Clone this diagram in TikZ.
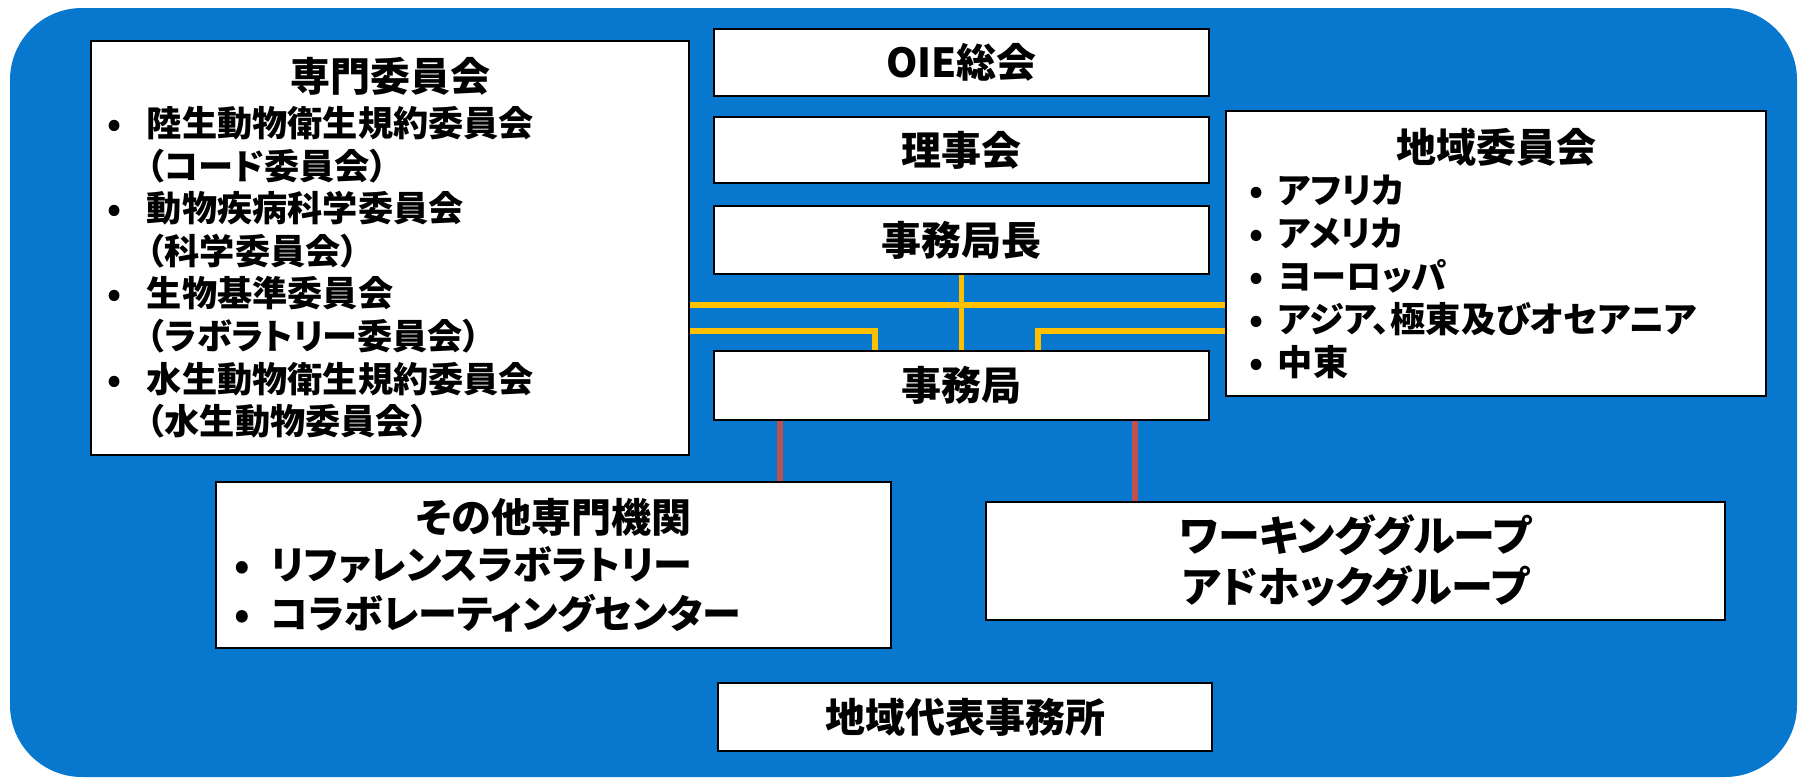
\documentclass[tikz,border=0pt]{standalone}
\usepackage{fontspec}
\setmainfont{Noto Sans CJK JP}[RawFeature=+palt]
\definecolor{bgblue}{HTML}{0878CE}
\definecolor{lineyellow}{HTML}{FFC000}
\definecolor{linered}{HTML}{C0504D}
\newcommand{\bl}[2]{\makebox[#1][l]{\hspace*{#2}•}}
\begin{document}
\begin{tikzpicture}[x=0.5pt,y=-0.5pt,
  box/.style={draw=black,line width=1.3pt,fill=white,inner sep=0pt,font=\bfseries\fontsize{20pt}{24pt}\selectfont,align=center},
  yl/.style={draw=lineyellow,line width=2.6pt},
  rl/.style={draw=linered,line width=3pt}]
\useasboundingbox (0,0) rectangle (1798,778);
\fill[bgblue,rounded corners=36pt] (10,8) rectangle (1797,777);
% top center boxes
\node[box,minimum width=247.5pt,minimum height=33.5pt] (oie) at (961.5,62.5) {OIE総会};
\node[box,minimum width=247.5pt,minimum height=33pt] (riji) at (961.5,150) {理事会};
\node[box,minimum width=247.5pt,minimum height=34pt] (cho) at (961.5,240) {事務局長};
\node[box,minimum width=247.5pt,minimum height=34.5pt] (jim) at (961.5,385.5) {事務局};
\node[box,minimum width=247pt,minimum height=34pt] (chiiki) at (965,717) {地域代表事務所};
% left box
\node[box,minimum width=299pt,minimum height=207pt,align=left] (senmon) at (390,248) {%
\begin{minipage}{275pt}
\centerline{\fontsize{20pt}{24pt}\selectfont 専門委員会}\vspace{1pt}
\fontsize{17.6pt}{21.3pt}\selectfont
\bl{16pt}{-4pt}陸生動物衛生規約委員会\\
\hspace*{16pt}（コード委員会）\\
\bl{16pt}{-4pt}動物疾病科学委員会\\
\hspace*{16pt}（科学委員会）\\
\bl{16pt}{-4pt}生物基準委員会\\
\hspace*{16pt}（ラボラトリー委員会）\\
\bl{16pt}{-4pt}水生動物衛生規約委員会\\
\hspace*{16pt}（水生動物委員会）
\end{minipage}};
% region box
\node[box,minimum width=270pt,minimum height=142.5pt,align=left] (region) at (1496,253.5) {%
\begin{minipage}{254pt}
\centerline{\fontsize{20pt}{24pt}\selectfont 地域委員会}\vspace{-1pt}
\fontsize{17.6pt}{21.5pt}\selectfont
\bl{18pt}{3.5pt}アフリカ\\
\bl{18pt}{3.5pt}アメリカ\\
\bl{18pt}{3.5pt}ヨーロッパ\\
\bl{18pt}{3.5pt}アジア、極東及びオセアニア\\
\bl{18pt}{3.5pt}中東
\end{minipage}};
% other box
\node[box,minimum width=337.5pt,minimum height=83pt,align=left] (other) at (553.5,565) {%
\begin{minipage}{315pt}
\centerline{\fontsize{20pt}{24pt}\selectfont その他専門機関}\vspace{-1pt}
\fontsize{19.5pt}{24.5pt}\selectfont
\bl{16pt}{-2pt}リファレンスラボラトリー\\
\bl{16pt}{-2pt}コラボレーティングセンター
\end{minipage}};
% working group
\node[box,minimum width=369.5pt,minimum height=59pt,font=\bfseries\fontsize{21pt}{25.5pt}\selectfont] (wg) at (1355.5,561) {ワーキンググループ\\アドホックグループ};
% yellow connectors
\draw[yl] (senmon.east |- 0,305) -- (region.west |- 0,305);
\draw[yl] (cho.south) -- (jim.north);
\draw[yl] (senmon.east |- 0,331) -- (875,331) -- (875,0 |- jim.north);
\draw[yl] (region.west |- 0,331) -- (1038,331) -- (1038,0 |- jim.north);
% red connectors
\draw[rl] (780,0 |- jim.south) -- (780,0 |- other.north);
\draw[rl] (1135,0 |- jim.south) -- (1135,0 |- wg.north);
\end{tikzpicture}
\end{document}
